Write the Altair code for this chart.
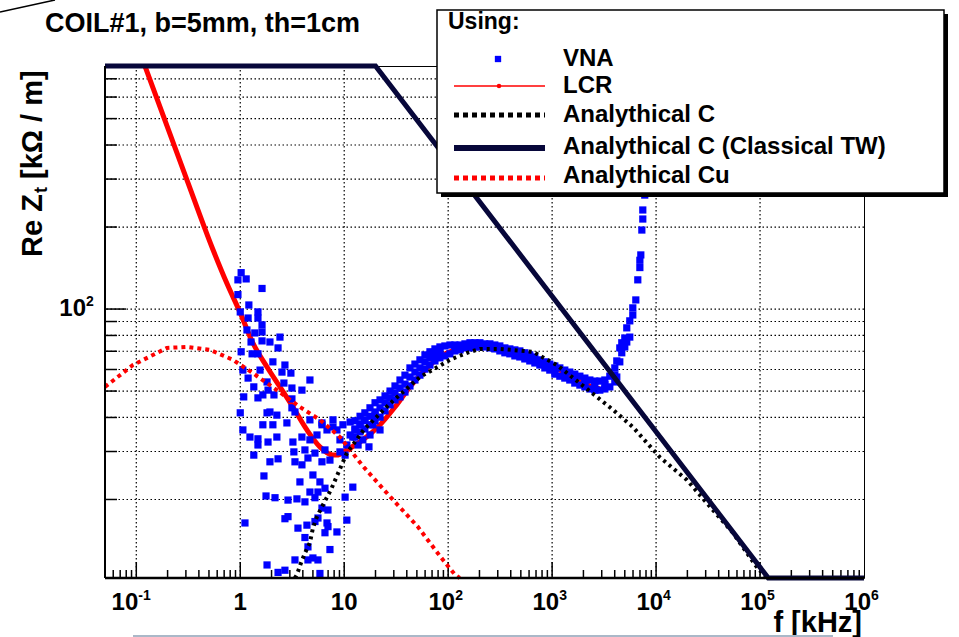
import altair as alt
import pandas as pd

# ---------------- data ----------------
# VNA measurement (blue squares): scattered low-f cloud + dense band
vna_f = [1.02, 0.95, 1.14, 1.62, 0.95, 1.21, 1.00, 1.19, 1.48, 1.48, 1.62, 1.16, 1.38, 1.62, 2.41, 1.27,
         1.62, 1.93, 2.31, 1.02, 1.30, 1.48, 2.06, 2.69, 1.06, 1.55, 2.52, 3.07, 4.68, 1.19, 2.63, 1.81,
         1.35, 1.85, 3.14, 3.92, 1.08, 1.48, 1.65, 2.11, 3.14, 1.00, 1.93, 3.14, 3.36, 1.81, 2.25, 2.81,
         4.68, 6.11, 1.06, 1.65, 2.06, 1.24, 1.48, 1.85, 2.25, 3.21, 3.92, 4.68, 5.47, 6.83, 1.48, 1.35,
         3.28, 4.19, 5.23, 6.53, 1.93, 2.31, 3.36, 3.92, 4.48, 6.11, 7.29, 1.69, 3.75, 5.00, 5.84, 6.53,
         4.68, 5.59, 1.77, 2.16, 2.88, 3.51, 4.19, 5.23, 6.11, 6.98, 2.88, 2.69, 1.11, 5.23, 5.59, 3.59,
         4.38, 6.83, 6.53, 4.19, 4.48, 5.00, 7.29, 1.81, 2.31, 2.69, 5.84, 6.11, 7.80, 11.4, 12.1, 17.3,
         22.1, 10.2, 12.1, 10.6, 4.48, 3.36, 5.59, 8.51, 6.98, 7.80, 8.51, 9.10, 9.72, 10.6, 11.4, 12.7,
         13.6, 14.2, 15.1, 15.8, 17.7, 18.9, 19.8, 9.10, 10.2,
         12.7, 12.7, 12.7, 14.2, 14.2, 14.2, 15.8, 15.8, 15.8, 17.7, 17.7, 17.7, 19.8, 19.8, 19.8,
         22.1, 22.1, 22.1, 24.7, 24.7, 24.7, 27.6, 27.6, 27.6, 30.8, 30.8, 30.8, 34.4, 34.4, 34.4,
         38.4, 38.4, 38.4, 42.9, 42.9, 42.9, 47.9, 47.9, 47.9, 53.5, 53.5, 53.5, 59.8, 59.8, 59.8,
         66.8, 66.8, 66.8, 74.6, 74.6, 74.6, 83.3, 83.3, 83.3,
         93.0, 93.0, 104, 104, 116, 116, 130, 130, 145, 145, 162, 162, 181, 181, 202, 202, 225, 225,
         252, 252, 281, 281, 314, 314, 351, 351, 392, 392, 438, 438, 489, 489, 546, 546, 610, 610,
         682, 682, 762, 762, 851, 851, 950, 950, 1062, 1062, 1186, 1186, 1324, 1324, 1479, 1479,
         1652, 1652, 1849, 1849, 2065, 2065, 2307, 2307, 2576, 2576, 2877, 2877, 3214, 3214,
         3589, 3589, 4009, 4009, 4188, 4188, 4477, 4477, 4677, 4677, 5000, 5000, 5224, 5224,
         5585, 5585, 5970, 5970, 6383, 6669, 6982, 6982, 7130, 7295, 7450, 7450, 7780,
         1062, 1324, 1652, 2065, 2576, 3214, 4009]
vna_z = [136, 128, 129, 119, 113, 103.5, 97.6, 92.7, 97.6, 92.7, 87.5, 83.8, 81.7, 82.4, 78.9, 75.7,
         76.4, 75.7, 72.0, 69.7, 68.5, 68.5, 64.0, 62.3, 59.7, 59.7, 58.7, 58.2, 54.9, 55.8, 53.5, 54.0,
         51.8, 50.4, 51.3, 50.4, 47.6, 47.2, 48.4, 48.4, 46.8, 41.6, 41.9, 43.4, 41.9, 41.6, 40.8, 38.2,
         39.2, 38.2, 36.0, 37.6, 37.6, 33.9, 33.4, 32.5, 33.9, 32.5, 33.9, 33.1, 34.5, 36.0, 31.7, 29.1,
         29.9, 30.4, 29.6, 30.4, 27.5, 28.2, 27.5, 26.8, 28.4, 27.5, 27.9, 24.4, 23.2, 24.6, 23.2, 22.0,
         21.3, 21.3, 20.6, 20.3, 19.9, 20.1, 19.6, 20.3, 18.6, 18.3, 17.3, 17.0, 16.4, 16.6, 17.1, 15.7,
         16.1, 16.4, 15.1, 14.5, 13.4, 12.2, 13.1, 11.5, 10.8, 11.0, 10.7, 37.6, 36.9, 38.5, 33.9, 31.2,
         36.0, 20.4, 22.2, 16.8, 12.0, 12.0, 12.0, 15.2, 15.9, 39.2, 36.0, 33.1, 37.6, 31.7, 34.5, 36.0,
         31.7, 37.6, 33.1, 39.2, 34.5, 37.6, 40.8, 29.9, 29.1,
         38.9, 33.9, 36.3, 40.4, 35.4, 37.9, 41.6, 36.3, 38.9, 43.4, 37.6, 40.4, 45.3, 38.9, 41.9,
         46.4, 40.1, 43.4, 48.0, 42.3, 45.3, 50.0, 44.5, 47.2, 52.2, 46.4, 49.2, 54.9, 47.6, 51.3,
         57.2, 49.6, 53.0, 60.8, 52.2, 56.3, 62.8, 54.9, 58.7, 65.1, 57.2, 60.8, 67.9, 60.2, 64.0,
         69.7, 62.3, 66.2, 71.4, 64.5, 67.9, 72.6, 66.2, 69.7,
         73.2, 67.3, 73.8, 68.5, 73.8, 70.2, 73.8, 70.8, 74.5, 72.0, 75.2, 72.0, 75.2, 72.6, 75.2, 72.6, 74.5, 72.6,
         74.5, 72.0, 73.8, 71.4, 73.2, 70.2, 72.0, 69.1, 71.4, 68.5, 70.8, 67.3, 70.2, 66.7, 69.1, 65.6, 67.9, 64.5,
         66.7, 63.4, 65.1, 62.3, 64.0, 60.8, 62.8, 59.7, 61.8, 57.7, 60.8, 56.7, 59.7, 55.8, 58.7, 54.9,
         57.7, 53.5, 56.7, 52.6, 55.8, 51.8, 54.9, 50.9, 54.4, 50.4, 54.4, 50.4, 54.9, 50.9,
         56.7, 51.8, 60.8, 54.0, 64.5, 56.3, 72.0, 64.0, 75.2, 69.1, 78.3, 72.6, 85.3, 75.7,
         90.5, 78.9, 101, 95.1, 108, 128, 151, 142, 158, 195, 231, 214, 262,
         59.7, 57.7, 55.6, 53.8, 52.4, 52.8, 57.3]

# LCR measurement (red line with dots)
lcr_f = [0.121, 0.300, 0.547, 0.745, 1.0, 1.32, 1.81, 2.41, 3.21, 4.38, 5.84, 7.80, 8.51, 10.6, 15.1,
         21.1, 30.8, 42.9, 59.8, 83.3, 116, 162, 225, 314, 438, 610, 851, 1186, 1652, 2307, 2877]
lcr_z = [780, 305, 165, 124, 96.8, 75.2, 61.3, 51.8, 43.7, 36.0, 31.2, 29.1, 29.1, 30.4, 33.1,
         36.9, 43.7, 51.8, 59.7, 66.7, 70.8, 72.6, 73.2, 72.0, 69.7, 66.7, 63.4, 59.7, 55.8, 52.2, 50.9]

# Analytical C (black dotted)
ac_f = [3.35, 3.51, 3.84, 4.19, 4.68, 5.0, 5.47, 6.11, 6.83, 7.45, 10.6, 15.4, 27.9, 53.5, 104, 152,
        202, 314, 653, 1112, 2698, 3846, 5970, 10860, 19770, 35150, 54700, 93100, 115000]
ac_z = [10.3, 10.6, 11.7, 12.7, 13.9, 15.7, 17.3, 18.8, 20.4, 21.7, 29.6, 36.0, 45.2, 56.3, 65.1, 69.1,
        71.4, 71.4, 69.7, 62.3, 47.6, 42.7, 36.9, 28.6, 23.6, 18.3, 15.1, 11.3, 10.3]

# Analytical C (Classical TW) (navy thick line, drawn at the frame where off-scale)
tw_f = [0.05, 20, 120000, 1e6]
tw_z = [780, 780, 10.3, 10.3]

# Analytical Cu (red dotted)
cu_f = [0.05, 0.0929, 0.197, 0.307, 0.511, 0.851, 1.32, 2.25, 3.75, 5.84, 9.10, 15.4, 27.9, 50.9,
        84.7, 116, 129]
cu_z = [51.8, 62.3, 72.0, 72.6, 70.8, 65.1, 58.2, 50.4, 43.7, 39.2, 33.9, 26.3, 20.4, 15.9,
        12.3, 10.6, 10.3]

# axis ticks / labels
x_major = [0.1, 1, 10, 100, 1e3, 1e4, 1e5]
x_minor = [0.06, 0.07, 0.08, 0.09] + [m * 10.0 ** e for e in range(-1, 6) for m in range(2, 10)]
y_major = [100]
y_minor = [20, 30, 40, 50, 60, 70, 80, 90, 200, 300, 400, 500, 600, 700]
x_plain_vals = [1, 10]
x_plain_text = ["1", "10"]
x_pow_vals = [100, 1e3, 1e4, 1e5, 1e6]
x_pow_exp = ["2", "3", "4", "5", "6"]

TITLE = "COIL#1, b=5mm, th=1cm"
legend_labels = ["VNA", "LCR", "Analythical C", "Analythical C (Classical TW)", "Analythical Cu"]

# ---------------- chart ----------------
W, H = 759, 512
FONT = "Liberation Sans"
xs = alt.Scale(type="log", domain=[0.05, 1e6], nice=False)
ys = alt.Scale(type="log", domain=[10.3, 780], nice=False)


def X(f="f"):
    return alt.X(f"{f}:Q", scale=xs, axis=None)


def Y(f="z"):
    return alt.Y(f"{f}:Q", scale=ys, axis=None)


def df(fv, zv):
    return pd.DataFrame({"f": fv, "z": zv, "i": list(range(len(fv)))})


one = pd.DataFrame({"a": [0]})

grid_y = alt.Chart(pd.DataFrame({"v": y_major + y_minor})).mark_rule(
    color="black", strokeDash=[1.5, 2.5], strokeWidth=1.2).encode(y=Y("v"))
grid_x = alt.Chart(pd.DataFrame({"v": x_major})).mark_rule(
    color="black", strokeDash=[1.5, 2.5], strokeWidth=1.2).encode(x=X("v"))

tick_y_maj = alt.Chart(pd.DataFrame({"v": y_major})).mark_rule(color="black", strokeWidth=1.5).encode(
    y=Y("v"), x=alt.value(0), x2=alt.value(21))
tick_y_min = alt.Chart(pd.DataFrame({"v": y_minor})).mark_rule(color="black", strokeWidth=1.5).encode(
    y=Y("v"), x=alt.value(0), x2=alt.value(12))
tick_x_maj = alt.Chart(pd.DataFrame({"v": x_major})).mark_rule(color="black", strokeWidth=1.5).encode(
    x=X("v"), y=alt.value(H), y2=alt.value(H - 16))
tick_x_min = alt.Chart(pd.DataFrame({"v": x_minor})).mark_rule(color="black", strokeWidth=1.5).encode(
    x=X("v"), y=alt.value(H), y2=alt.value(H - 8))

frame_left = alt.Chart(one).mark_rule(color="black", strokeWidth=2).encode(
    x=alt.value(0), y=alt.value(0), y2=alt.value(H))
frame_bottom = alt.Chart(one).mark_rule(color="black", strokeWidth=2.5).encode(
    x=alt.value(0), x2=alt.value(W), y=alt.value(H))

cu = alt.Chart(df(cu_f, cu_z)).mark_line(color="#ff0000", strokeWidth=4, strokeDash=[4, 4]).encode(
    x=X(), y=Y(), order="i:Q")
lcr = alt.Chart(df(lcr_f, lcr_z)).mark_line(color="#ff0000", strokeWidth=5, interpolate="monotone").encode(
    x=X(), y=Y(), order="i:Q")
vna = alt.Chart(df(vna_f, vna_z)).mark_point(shape="square", filled=True, size=52, color="#0000ff",
                                              opacity=1, strokeWidth=0).encode(x=X(), y=Y())
ac = alt.Chart(df(ac_f, ac_z)).mark_line(color="black", strokeWidth=4, strokeDash=[3, 4]).encode(
    x=X(), y=Y(), order="i:Q")
tw = alt.Chart(df(tw_f, tw_z)).mark_line(color="#07073a", strokeWidth=5, clip=False).encode(
    x=X(), y=Y(), order="i:Q")

# tick labels
txt = dict(font=FONT, fontWeight="bold", color="black", baseline="alphabetic")
LS, ES = 24, 14
lab_plain = alt.Chart(pd.DataFrame({"v": x_plain_vals, "t": x_plain_text})).mark_text(
    align="center", fontSize=LS, **txt).encode(x=X("v"), y=alt.value(544), text="t:N")
lab_pow = alt.Chart(pd.DataFrame({"v": x_pow_vals})).mark_text(
    align="right", fontSize=LS, dx=7, **txt).encode(x=X("v"), y=alt.value(544), text=alt.value("10"))
lab_pow_e = alt.Chart(pd.DataFrame({"v": x_pow_vals, "t": x_pow_exp})).mark_text(
    align="left", fontSize=ES, dx=7, **txt).encode(x=X("v"), y=alt.value(534), text="t:N")
lab_m1 = alt.Chart(pd.DataFrame({"v": [0.1]})).mark_text(
    align="right", fontSize=LS, dx=2, **txt).encode(x=X("v"), y=alt.value(544), text=alt.value("10"))
lab_m1_e = alt.Chart(pd.DataFrame({"v": [0.1]})).mark_text(
    align="left", fontSize=ES, dx=2, **txt).encode(x=X("v"), y=alt.value(534), text=alt.value("-1"))
lab_y = alt.Chart(pd.DataFrame({"v": [100]})).mark_text(
    align="right", fontSize=LS, dy=7, **txt).encode(y=Y("v"), x=alt.value(-19), text=alt.value("10"))
lab_y_e = alt.Chart(pd.DataFrame({"v": [100]})).mark_text(
    align="left", fontSize=ES, dy=-3, **txt).encode(y=Y("v"), x=alt.value(-19), text=alt.value("2"))


def label(s, x, y, size, align="left", angle=0):
    kw = dict(txt)
    if angle:
        kw["angle"] = angle
    return alt.Chart(one).mark_text(align=align, fontSize=size, **kw).encode(
        x=alt.value(x), y=alt.value(y), text=alt.value(s))


title = label(TITLE, -60, -34, 27)
ytitle1 = label("Re Z", -63, 191, 29, angle=270)
ytitle2 = label("t", -58, 127, 18, angle=270)
ytitle3 = label("[k\u03a9 / m]", -63, 113, 29, angle=270)
xtitle = label("f [kHz]", 757, 566, 29, align="right")


def rule(x, x2, y, y2, color, width, dash=None):
    kw = dict(color=color, strokeWidth=width)
    if dash:
        kw["strokeDash"] = dash
    return alt.Chart(one).mark_rule(**kw).encode(
        x=alt.value(x), x2=alt.value(x2), y=alt.value(y), y2=alt.value(y2))


def rect(x, x2, y, y2, fill, stroke=None):
    kw = dict(fill=fill)
    if stroke:
        kw.update(stroke=stroke, strokeWidth=1.5)
    return alt.Chart(one).mark_rect(**kw).encode(
        x=alt.value(x), x2=alt.value(x2), y=alt.value(y), y2=alt.value(y2))


# legend (ROOT TLegend style)
leg = [
    rect(336, 843, -52, 131, "black"),
    rect(332, 839, -56, 127, "white", "black"),
    label("Using:", 343, -37, 23),
    alt.Chart(one).mark_point(shape="square", filled=True, size=40, color="#0000ff", opacity=1).encode(
        x=alt.value(393), y=alt.value(-7)),
    label(legend_labels[0], 458, 0, 24),
    rule(349, 440, 20, 20, "#ff0000", 1.5),
    alt.Chart(one).mark_point(shape="circle", filled=True, size=20, color="#ff0000", opacity=1).encode(
        x=alt.value(394), y=alt.value(20)),
    label(legend_labels[1], 458, 27, 24),
    rule(349, 440, 49, 49, "black", 5, [5, 4]),
    label(legend_labels[2], 458, 56, 24),
    rule(349, 440, 82, 82, "#07073a", 6),
    label(legend_labels[3], 458, 88, 24),
    rule(349, 440, 112, 112, "#ff0000", 5, [5, 4]),
    label(legend_labels[4], 458, 117, 24),
]

# screenshot artefacts
deco = [
    rule(-105, -50, -54, -66, "black", 1.5),
    rule(28, 728, 570, 570, "#aab8c8", 2),
]

chart = alt.layer(
    grid_y, grid_x, tick_y_maj, tick_y_min, tick_x_maj, tick_x_min,
    lcr, vna, cu, ac, tw, frame_left, frame_bottom,
    lab_plain, lab_pow, lab_pow_e, lab_m1, lab_m1_e, lab_y, lab_y_e,
    title, ytitle1, ytitle2, ytitle3, xtitle, *leg, *deco
).properties(
    width=W, height=H,
    autosize=alt.AutoSizeParams(type="none"),
    padding={"left": 105, "top": 66, "right": 95, "bottom": 59},
    background="white",
).configure_view(stroke="black", strokeWidth=1)

chart.save("out.html", embed_options={"renderer": "svg", "actions": False})
